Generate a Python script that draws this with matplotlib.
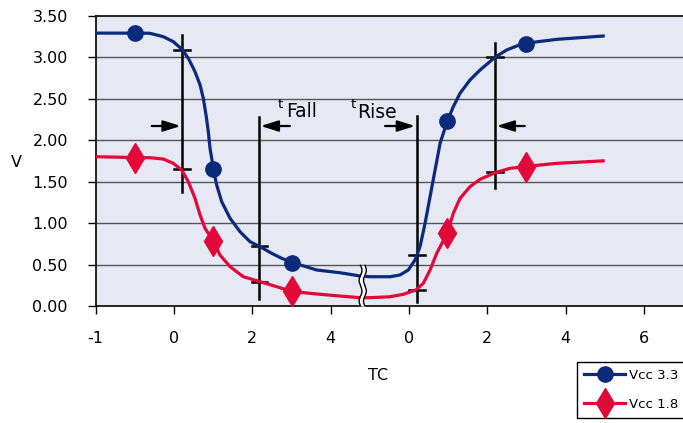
import matplotlib.pyplot as plt
import numpy as np

# x is the slot position along the (broken) axis; ticks sit on whole slots
tick_pos = [0, 1, 2, 3, 4, 5, 6, 7]
tick_labels = ['-1', '0', '2', '4', '0', '2', '4', '6']
y_ticks = [0.0, 0.5, 1.0, 1.5, 2.0, 2.5, 3.0, 3.5]

# curves
vcc33_x = [0.0, 0.50, 0.693, 0.863, 0.991, 1.098, 1.183, 1.268, 1.333, 1.374, 1.409,
           1.438, 1.460, 1.481, 1.502, 1.545, 1.609, 1.716, 1.843, 1.971, 2.099, 2.248,
           2.375, 2.503, 2.822, 3.12, 3.375, 3.50, 3.76, 3.886, 3.992, 4.078, 4.142,
           4.206, 4.27, 4.334, 4.398, 4.49, 4.567, 4.653, 4.78, 4.908, 5.10, 5.249,
           5.377, 5.483, 5.89, 6.48]
vcc33_y = [3.29, 3.29, 3.288, 3.247, 3.187, 3.099, 2.987, 2.825, 2.665, 2.504, 2.303,
           2.102, 1.901, 1.781, 1.652, 1.459, 1.258, 1.057, 0.896, 0.775, 0.715, 0.635,
           0.575, 0.527, 0.434, 0.401, 0.362, 0.353, 0.353, 0.374, 0.434, 0.555, 0.715,
           0.997, 1.318, 1.64, 1.962, 2.23, 2.403, 2.565, 2.725, 2.845, 2.999, 3.087,
           3.135, 3.167, 3.215, 3.255]
vcc18_x = [0.0, 0.50, 0.693, 0.863, 0.991, 1.098, 1.183, 1.268, 1.333, 1.396, 1.50,
           1.587, 1.716, 1.885, 2.099, 2.312, 2.503, 2.822, 3.12, 3.38, 3.50, 3.76,
           3.929, 4.09, 4.184, 4.27, 4.355, 4.49, 4.567, 4.653, 4.78, 4.908, 5.10,
           5.291, 5.49, 5.674, 5.89, 6.48]
vcc18_y = [1.80, 1.79, 1.788, 1.772, 1.72, 1.64, 1.499, 1.298, 1.097, 0.937, 0.787,
           0.615, 0.474, 0.353, 0.293, 0.233, 0.175, 0.145, 0.12, 0.10, 0.10, 0.112,
           0.141, 0.193, 0.274, 0.434, 0.635, 0.88, 1.118, 1.298, 1.438, 1.527, 1.607,
           1.66, 1.68, 1.70, 1.72, 1.75]

# marker points
m33_x = [0.50, 1.50, 2.51, 4.49, 5.49]
m33_y = [3.29, 1.652, 0.52, 2.23, 3.16]
m18_x = [0.50, 1.50, 2.51, 4.49, 5.49]
m18_y = [1.79, 0.787, 0.175, 0.88, 1.68]

# measurement bars: x, bottom, top, tick levels
bar_x = [1.10, 2.09, 4.10, 5.10]
bar_lo = [1.38, 0.08, 0.05, 1.42]
bar_hi = [3.27, 2.28, 2.29, 3.17]
bar_ticks = [[3.087, 1.648], [0.723, 0.293], [0.615, 0.193], [3.0, 1.61]]

# arrows (start, end) at level 2.17
arrow_y = 2.17
arrows = [(0.715, 1.086), (2.48, 2.107), (3.695, 4.078), (5.48, 5.12)]

blue = '#0B2A7B'
red = '#E2083A'

fig = plt.figure(figsize=(6.83, 4.23), dpi=100)
ax = fig.add_axes([95.7 / 683, 1 - 306 / 423, 1 - 95.7 / 683, 290.3 / 423])
ax.set_facecolor('#E6E9F3')
ax.set_xlim(0, 7.5)
ax.set_ylim(0, 3.5)

for g in y_ticks[1:-1]:
    ax.axhline(g, color='#555555', lw=1.0, zorder=1)

for i in range(len(bar_x)):
    ax.plot([bar_x[i], bar_x[i]], [bar_lo[i], bar_hi[i]], color='black', lw=1.8, zorder=2)
    for t in bar_ticks[i]:
        ax.plot([bar_x[i] - 0.1, bar_x[i] + 0.1], [t, t], color='black', lw=1.8, zorder=2)

for a, b in arrows:
    ax.annotate('', xy=(b, arrow_y), xytext=(a, arrow_y),
                arrowprops=dict(arrowstyle='-|>,head_length=0.7,head_width=0.22',
                                color='black', lw=1.6, shrinkA=0, shrinkB=0,
                                mutation_scale=15), zorder=2)

ax.plot(vcc33_x, vcc33_y, color=blue, lw=2.3, zorder=3, solid_joinstyle='round')
ax.plot(vcc18_x, vcc18_y, color=red, lw=2.3, zorder=3, solid_joinstyle='round')
ax.plot(m33_x, m33_y, 'o', color=blue, ms=11, zorder=4)
ax.plot(m18_x, m18_y, 'd', color=red, ms=15, zorder=4)

# axis break marks
xb = 3.41
for yc in [0.37, 0.12]:
    yy = np.linspace(yc - 0.12, yc + 0.12, 40)
    wav = 0.018 * np.sin((yy - yc) / 0.24 * 2 * np.pi)
    ax.fill_betweenx(yy, xb - 0.028 + wav, xb + 0.028 + wav, color='white', zorder=5, lw=0)
    ax.plot(xb - 0.028 + wav, yy, color='black', lw=1.0, zorder=6)
    ax.plot(xb + 0.028 + wav, yy, color='black', lw=1.0, zorder=6)

ax.text(2.325, 2.384, 't', fontsize=9.5, zorder=6)
ax.text(2.43, 2.278, 'Fall', fontsize=13.5, zorder=6)
ax.text(3.255, 2.384, 't', fontsize=9.5, zorder=6)
ax.text(3.34, 2.266, 'Rise', fontsize=13.5, zorder=6)

ax.set_xticks(tick_pos)
ax.set_xticklabels(tick_labels)
ax.set_yticks(y_ticks)
ax.set_yticklabels(['%.2f' % v for v in y_ticks])
ax.tick_params(axis='both', direction='out', length=6, width=1, labelsize=11.5)
ax.tick_params(axis='x', pad=12)
ax.tick_params(axis='y', pad=14)
ax.spines['right'].set_visible(False)
for s in ['left', 'top', 'bottom']:
    ax.spines[s].set_linewidth(1.2)

ax.set_ylabel('V', rotation=0, fontsize=11.5, ha='center', va='center')
ax.yaxis.set_label_coords(-0.135, 0.494)
ax.text(0.4815, -0.238, 'TC', transform=ax.transAxes, fontsize=11.5, ha='center', va='center')

h1, = ax.plot([], [], color=blue, lw=2.3, marker='o', ms=11, label='Vcc 3.3')
h2, = ax.plot([], [], color=red, lw=2.3, marker='d', ms=15, label='Vcc 1.8')
leg = fig.legend(handles=[h1, h2], loc='upper left',
                 bbox_to_anchor=(576.7 / 683, 1 - 361.7 / 423), borderaxespad=0,
                 fontsize=9.6, handlelength=3.1, handletextpad=0.3, labelspacing=1.2,
                 borderpad=0.55, fancybox=False, edgecolor='black', framealpha=1)
leg.get_frame().set_linewidth(1.0)

plt.savefig('out.png', dpi=100)
